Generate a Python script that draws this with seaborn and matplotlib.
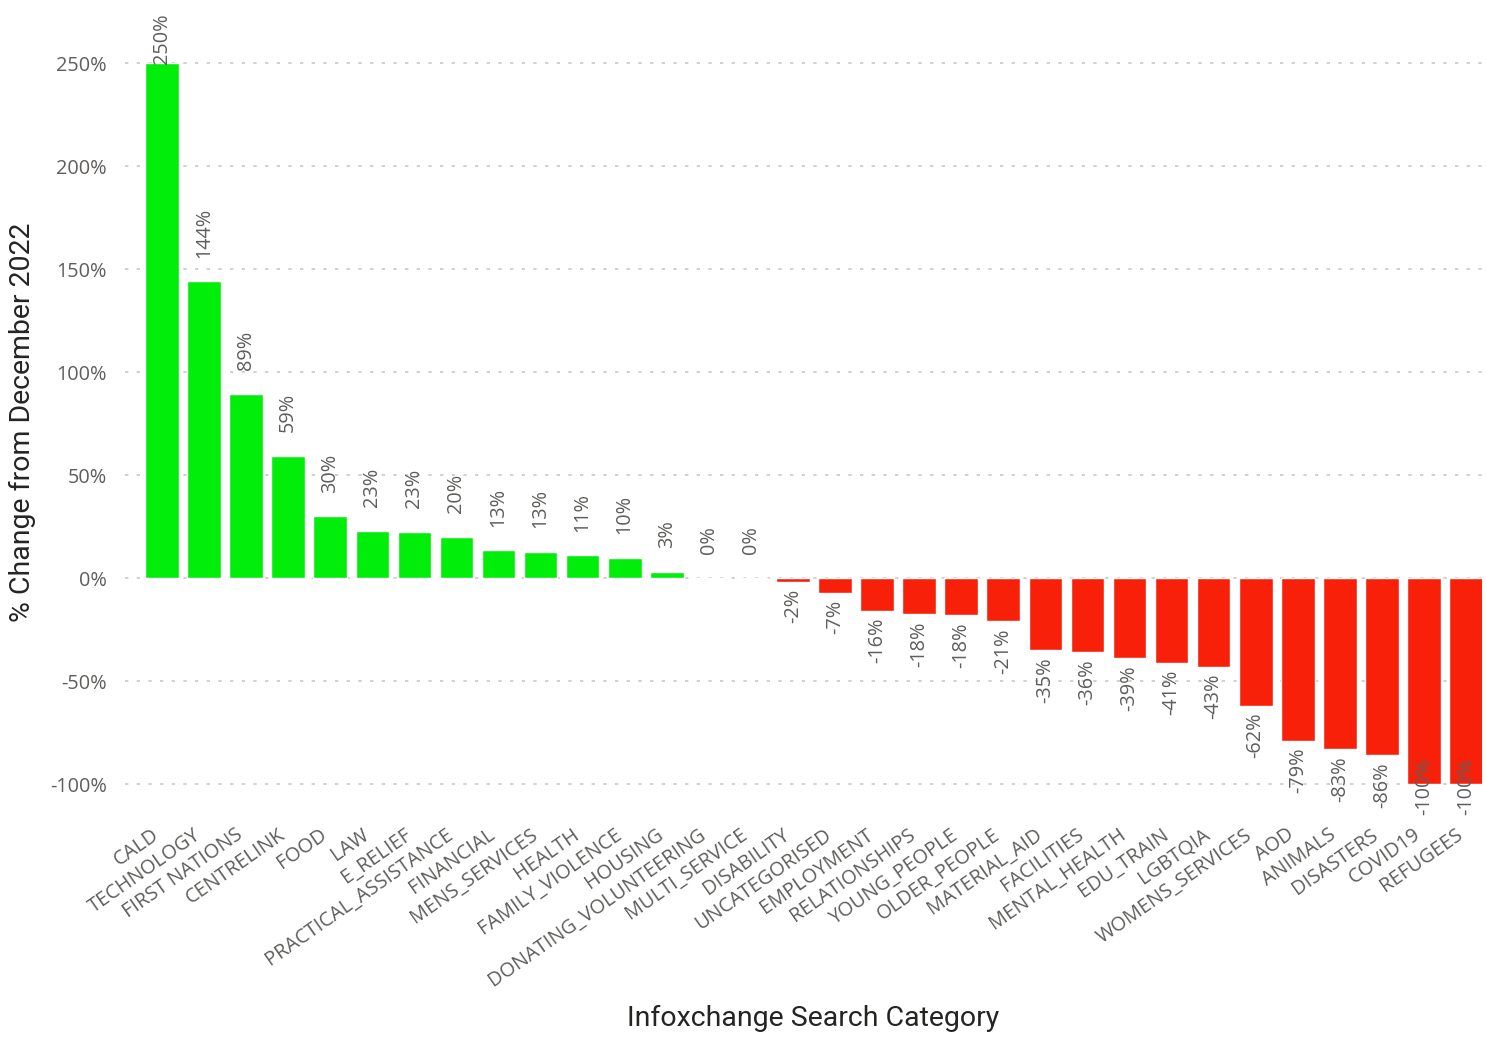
import matplotlib
matplotlib.use("Agg")
import matplotlib.pyplot as plt
import matplotlib.transforms as mtransforms
import seaborn as sns
import pandas as pd

categories = ["CALD", "TECHNOLOGY", "FIRST NATIONS", "CENTRELINK", "FOOD", "LAW",
              "E_RELIEF", "PRACTICAL_ASSISTANCE", "FINANCIAL", "MENS_SERVICES",
              "HEALTH", "FAMILY_VIOLENCE", "HOUSING", "DONATING_VOLUNTEERING",
              "MULTI_SERVICE", "DISABILITY", "UNCATEGORISED", "EMPLOYMENT",
              "RELATIONSHIPS", "YOUNG_PEOPLE", "OLDER_PEOPLE", "MATERIAL_AID",
              "FACILITIES", "MENTAL_HEALTH", "EDU_TRAIN", "LGBTQIA",
              "WOMENS_SERVICES", "AOD", "ANIMALS", "DISASTERS", "COVID19", "REFUGEES"]
values = [250, 144, 89.4, 59.4, 30, 23, 22.6, 20, 13.4, 12.7, 11.1, 9.7, 3, 0, 0,
          -2, -7, -16, -17.5, -18, -21, -35, -36, -39, -41, -43, -62, -79, -83,
          -86, -100, -100]
y_ticks = [-100, -50, 0, 50, 100, 150, 200, 250]
y_tick_labels = ["-100%", "-50%", "0%", "50%", "100%", "150%", "200%", "250%"]

GREEN = "#00EE0A"
RED = "#F9200A"
TXT = "#605E5C"
TITLE = "#252423"
FS = 14.3

sns.set_theme(style="white")
plt.rcParams["font.family"] = ["Open Sans", "DejaVu Sans"]

df = pd.DataFrame({"cat": categories, "val": values})
df["sign"] = ["pos" if v >= 0 else "neg" for v in values]

fig = plt.figure(figsize=(14.86, 10.38), dpi=100)
ax = fig.add_axes([125 / 1486, 1 - 815 / 1038, (1482 - 125) / 1486, (815 - 13) / 1038])

sns.barplot(data=df, x="cat", y="val", hue="sign", palette={"pos": GREEN, "neg": RED},
            dodge=False, legend=False, width=0.8, ax=ax, saturation=1)

ax.set_ylim(-115, 274.3)
ax.set_xlim(-0.88, 31.38)
ax.set_yticks(y_ticks)
ax.set_yticklabels(y_tick_labels)
ax.yaxis.grid(True, color="#C8C8C8", linestyle=(0, (2, 5)), linewidth=1.2)
ax.set_axisbelow(True)
for s in ax.spines.values():
    s.set_visible(False)
ax.tick_params(axis="y", length=0, pad=13, labelsize=FS, labelcolor=TXT)
ax.tick_params(axis="x", length=0, pad=7, labelsize=FS, labelcolor=TXT)
shift = mtransforms.ScaledTranslation(-11 / 100, 0, fig.dpi_scale_trans)
for lab in ax.get_xticklabels():
    lab.set_rotation(35)
    lab.set_ha("right")
    lab.set_rotation_mode("anchor")
    lab.set_transform(lab.get_transform() + shift)

ax.set_xlabel("Infoxchange Search Category", fontsize=20.5, color=TITLE, family="Roboto")
ax.set_ylabel("% Change from December 2022", fontsize=20.5, color=TITLE, family="Roboto")
ax.xaxis.set_label_coords((813 - 125) / 1357, (815 - 1018) / 802)
ax.xaxis.label.set_va("center")
ax.yaxis.set_label_coords((22 - 125) / 1357, (815 - 422) / 802)
ax.yaxis.label.set_va("center")

texts = []
for i, v in enumerate(values):
    lab = f"{round(v):d}%"
    if v >= 0:
        t = ax.annotate(lab, (i, v), xytext=(0, 17), textcoords="offset points",
                        rotation=90, ha="center", va="bottom", fontsize=FS, color=TXT)
    else:
        t = ax.annotate(lab, (i, v), xytext=(0, -5), textcoords="offset points",
                        rotation=90, ha="center", va="top", fontsize=FS, color=TXT)
    texts.append((t, v, i, lab))

fig.canvas.draw()
r = fig.canvas.get_renderer()
abox = ax.get_window_extent(r)
for t, v, i, lab in texts:
    bb = t.get_window_extent(r)
    if bb.y1 > abox.y1:
        t.remove()
        ax.text(i, 1.0, lab, transform=ax.get_xaxis_transform(), rotation=90,
                ha="center", va="top", fontsize=FS, color=TXT)
    elif bb.y0 < abox.y0:
        t.remove()
        ax.text(i, 0.0, lab, transform=ax.get_xaxis_transform(), rotation=90,
                ha="center", va="bottom", fontsize=FS, color=TXT)

fig.savefig("out.png", dpi=100)
